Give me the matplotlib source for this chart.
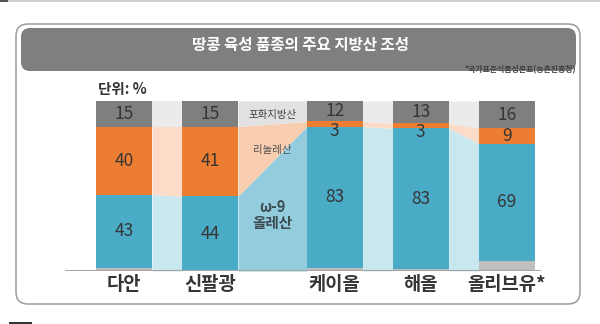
import matplotlib
matplotlib.use("Agg")
import matplotlib.pyplot as plt
from matplotlib.patches import FancyBboxPatch, Rectangle
import numpy as np

plt.rcParams['font.family'] = ['Noto Sans CJK KR', 'DejaVu Sans']

# ---- data ----
title = "땅콩 육성 품종의 주요 지방산 조성"
source = "*국가표준식품성분표(농촌진흥청)"
unit_label = "단위: %"
categories = ["다안", "신팔광", "케이올", "해올", "올리브유*"]
saturated = [15, 15, 12, 13, 16]   # 포화지방산
linoleic = [40, 41, 3, 3, 9]       # 리놀레산
oleic = [43, 44, 83, 83, 69]       # ω-9 올레산
series_names = ["포화지방산", "리놀레산", "ω-9\n올레산"]

# ---- styles ----
c_sat, c_lin, c_ole, c_rest = "#7f7f7f", "#ed7d31", "#4aabc6", "#bfbfbf"
band_light = {"sat": "#ebebeb", "lin": "#fcdcc9", "ole": "#c9e7ef"}
band_mid = {"sat": "#e1e1e1", "lin": "#f9cdb0", "ole": "#93cddd"}
txt = "#353535"

W, H = 600, 324
fig = plt.figure(figsize=(6, 3.24), dpi=100)

# background decoration layer in pixel coordinates
bg = fig.add_axes([0, 0, 1, 1], zorder=0)
bg.set_xlim(0, W)
bg.set_ylim(H, 0)
bg.axis("off")
bg.add_patch(Rectangle((0, 0), W, 1.5, color="#d0d0d0", lw=0))
bg.add_patch(Rectangle((0, 0), 8, 2, color="#555555", lw=0))
bg.add_patch(Rectangle((9, 322), 23, 2, color="#333333", lw=0))
bg.add_patch(FancyBboxPatch((16 + 12, 24 + 12), 564 - 24, 280 - 24,
                            boxstyle="round,pad=12", fc="white", ec="#9c9c9c", lw=1.1))
bg.add_patch(FancyBboxPatch((21 + 9, 28 + 9), 555 - 18, 34 - 9,
                            boxstyle="round,pad=9", fc="#7f7f7f", ec="none"))
bg.add_patch(Rectangle((21, 46), 555, 16, fc="#7f7f7f", ec="none"))
bg.text(300, 45, title, color="white", fontsize=11.2, fontweight="bold",
        ha="center", va="center")
bg.text(576, 69.5, source, color="#404040", fontsize=5.7, fontweight="bold",
        ha="right", va="center")
bg.text(98, 89, unit_label, color=txt, fontsize=10.5, fontweight="bold",
        ha="left", va="center")

# ---- chart axes ----
unit_px = 86.0
x0_px = 124.0
xl_px, xr_px = 65.0, 541.0
base_px, top_px = 271.0, 101.0
ax = fig.add_axes([xl_px / W, (H - base_px) / H, (xr_px - xl_px) / W, (base_px - top_px) / H],
                  zorder=1)
ax.patch.set_alpha(0)
ax.set_xlim((xl_px - x0_px) / unit_px, (xr_px - x0_px) / unit_px)
ax.set_ylim(0, 100)

x = np.array([0, 1, 2.45, 3.45, 4.45])
bw = 56 / unit_px
sat = np.array(saturated, float)
lin = np.array(linoleic, float)
ole = np.array(oleic, float)
rest = 100 - sat - lin - ole
ole_top = rest + ole
lin_top = ole_top + lin

# connector bands
for i in range(len(x) - 1):
    xs = [x[i] + bw / 2, x[i + 1] - bw / 2]
    cols = band_mid if i == 1 else band_light
    ax.fill_between(xs, [0, 0], [ole_top[i], ole_top[i + 1]], color=cols["ole"], lw=0)
    ax.fill_between(xs, [ole_top[i], ole_top[i + 1]], [lin_top[i], lin_top[i + 1]],
                    color=cols["lin"], lw=0)
    ax.fill_between(xs, [lin_top[i], lin_top[i + 1]], [100, 100], color=cols["sat"], lw=0)

# bars
ax.bar(x, rest, bw, color=c_rest, lw=0)
ax.bar(x, ole, bw, bottom=rest, color=c_ole, lw=0)
ax.bar(x, lin, bw, bottom=ole_top, color=c_lin, lw=0)
ax.bar(x, sat, bw, bottom=lin_top, color=c_sat, lw=0)

num_kw = dict(ha="center", va="center", fontsize=12.5, color=txt, fontweight="medium")
for i in range(len(x)):
    ax.text(x[i], rest[i] + ole[i] / 2, f"{oleic[i]}", **num_kw)
    ly = ole_top[i] + lin[i] / 2
    if lin[i] < 5:
        ly = ole_top[i] - 2.5
    ax.text(x[i], ly, f"{linoleic[i]}", **num_kw)
    ax.text(x[i], lin_top[i] + sat[i] / 2, f"{saturated[i]}", **num_kw)

# series labels in the wide gap
xm = (x[1] + x[2]) / 2
ax.text(xm, 100 - sat[1] / 2 - 0.5, series_names[0], ha="center", va="center",
        fontsize=7.5, color="#404040")
ax.text(xm, 71, series_names[1], ha="center", va="center", fontsize=7.5, color="#505050")
ax.text(xm, 33, series_names[2], ha="center", va="center", fontsize=10.5,
        fontweight="bold", color="#3c4a52", linespacing=1.0)

ax.axhline(0, color="#a6a6a6", lw=1.5, zorder=5)
ax.set_xticks(x)
ax.set_xticklabels(categories, fontsize=13.5, fontweight="bold", color=txt)
ax.tick_params(axis="x", length=0, pad=3)
ax.set_yticks([])
for s in ax.spines.values():
    s.set_visible(False)

fig.savefig("out.png", dpi=100)
